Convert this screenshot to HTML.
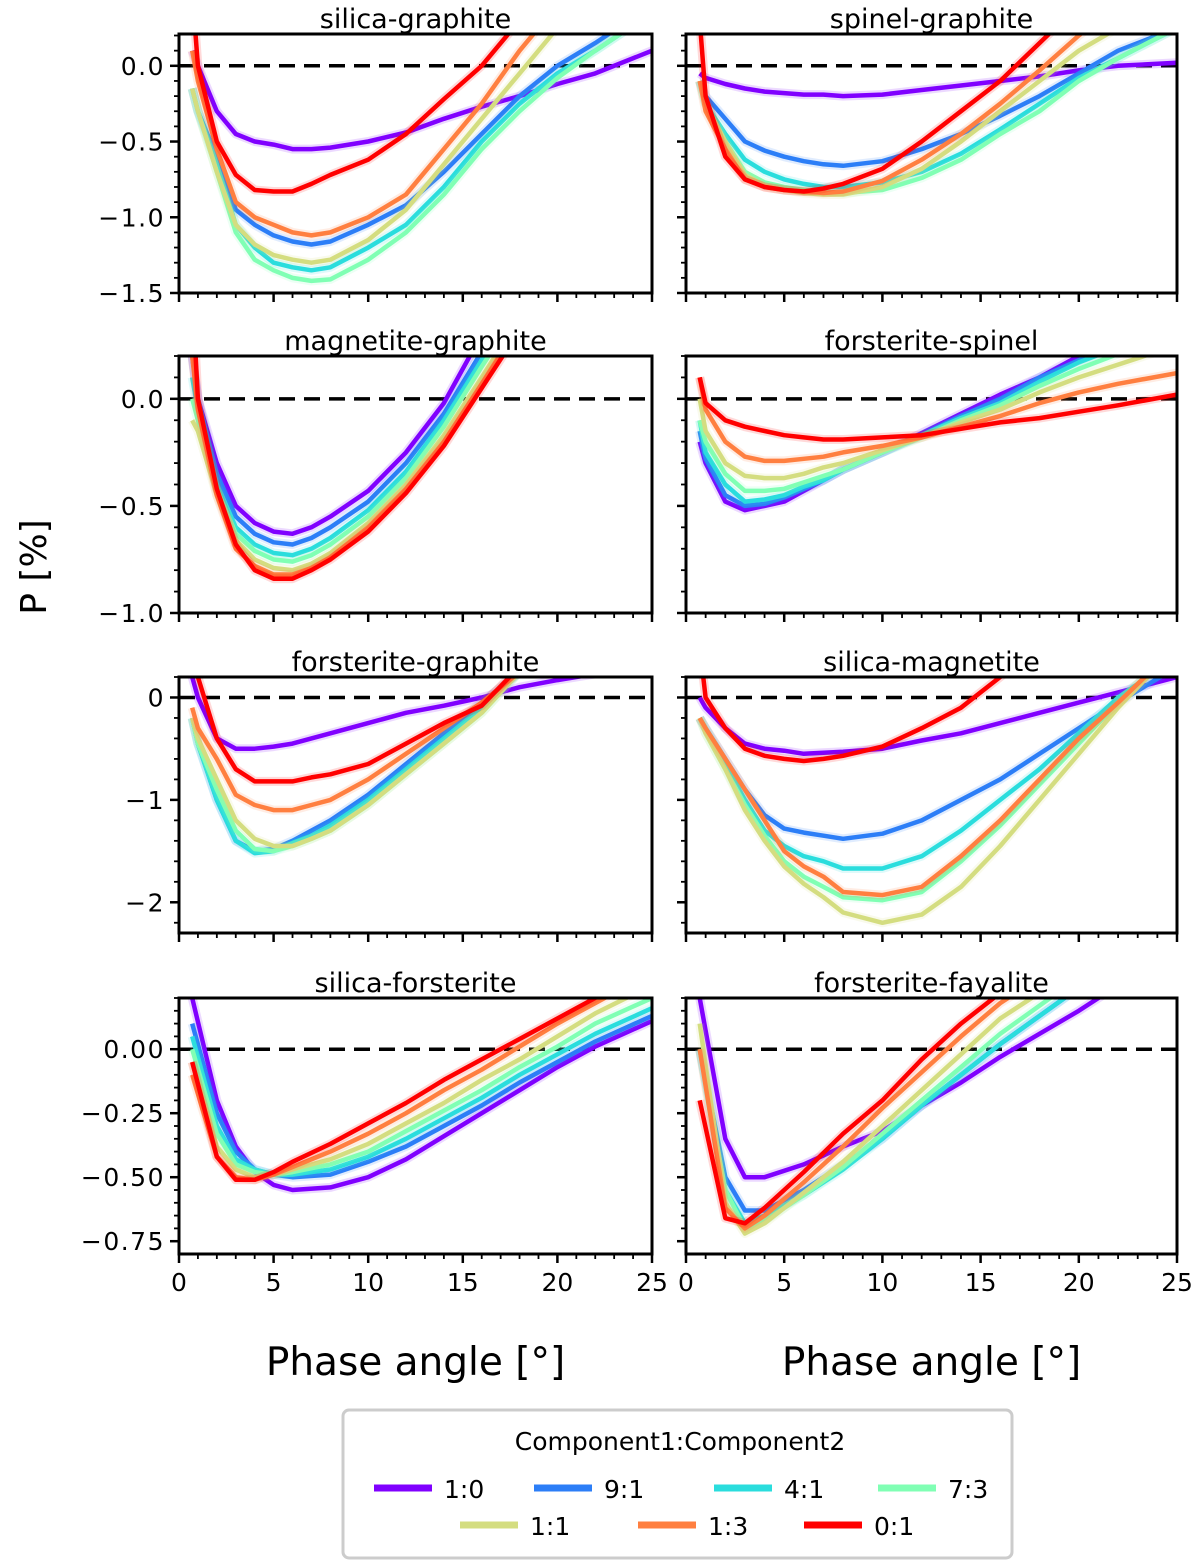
<!DOCTYPE html>
<html><head><meta charset="utf-8"><style>
html,body{margin:0;padding:0;background:#fff;}
svg{display:block;font-family:"DejaVu Sans","Liberation Sans",sans-serif;}
</style></head><body>
<svg id="chart" width="1200" height="1568" viewBox="0 0 1200 1568" xmlns="http://www.w3.org/2000/svg"></svg>
<script>
const ratioLabels=["1:0","9:1","4:1","7:3","1:1","1:3","0:1"];
const colors=["#8000ff","#2c7ef7","#2adddd","#80ffb4","#d4dd80","#ff7f40","#ff0000"];
const panelTitles=["silica-graphite","spinel-graphite","magnetite-graphite","forsterite-spinel","forsterite-graphite","silica-magnetite","silica-forsterite","forsterite-fayalite"];
const xTicks=[0,5,10,15,20,25];
const x1=[0.7,1,2,3,4,5,6,7,8,10,12,14,16,18,20,22,25];
const p1=[
[0.1,0.0,-0.3,-0.45,-0.5,-0.52,-0.55,-0.55,-0.54,-0.5,-0.44,-0.35,-0.27,-0.2,-0.12,-0.05,0.1],
[-0.15,-0.3,-0.6,-0.95,-1.05,-1.12,-1.16,-1.18,-1.16,-1.05,-0.92,-0.7,-0.45,-0.2,0,0.15,0.4],
[-0.15,-0.3,-0.65,-1.05,-1.2,-1.3,-1.33,-1.35,-1.33,-1.2,-1.05,-0.8,-0.5,-0.25,-0.05,0.1,0.35],
[-0.15,-0.3,-0.7,-1.1,-1.28,-1.35,-1.4,-1.42,-1.41,-1.28,-1.1,-0.85,-0.55,-0.3,-0.08,0.1,0.35],
[-0.15,-0.3,-0.7,-1.05,-1.18,-1.25,-1.28,-1.3,-1.28,-1.15,-0.95,-0.65,-0.35,-0.05,0.25,0.5,0.8],
[0.1,-0.1,-0.55,-0.9,-1.0,-1.05,-1.1,-1.12,-1.1,-1.0,-0.85,-0.55,-0.25,0.1,0.4,0.6,0.9],
[0.5,0.0,-0.5,-0.72,-0.82,-0.83,-0.83,-0.78,-0.72,-0.62,-0.45,-0.22,0.0,0.3,0.6,0.9,1.2]];
const p2=[
[-0.05,-0.08,-0.12,-0.15,-0.17,-0.18,-0.19,-0.19,-0.2,-0.19,-0.16,-0.13,-0.1,-0.07,-0.03,0.0,0.02],
[-0.1,-0.2,-0.35,-0.5,-0.56,-0.6,-0.63,-0.65,-0.66,-0.63,-0.55,-0.45,-0.33,-0.2,-0.05,0.1,0.25],
[-0.1,-0.25,-0.45,-0.62,-0.7,-0.75,-0.78,-0.8,-0.8,-0.77,-0.7,-0.58,-0.42,-0.25,-0.08,0.05,0.25],
[-0.1,-0.25,-0.5,-0.7,-0.77,-0.8,-0.82,-0.83,-0.84,-0.82,-0.74,-0.62,-0.45,-0.3,-0.1,0.05,0.25],
[-0.1,-0.25,-0.5,-0.72,-0.79,-0.82,-0.84,-0.85,-0.85,-0.8,-0.68,-0.5,-0.3,-0.1,0.1,0.25,0.5],
[-0.1,-0.3,-0.55,-0.75,-0.8,-0.82,-0.83,-0.84,-0.83,-0.76,-0.62,-0.45,-0.25,-0.03,0.2,0.4,0.6],
[0.3,-0.2,-0.6,-0.75,-0.8,-0.82,-0.83,-0.81,-0.78,-0.68,-0.5,-0.3,-0.1,0.15,0.4,0.6,0.9]];
const p3=[
[0.2,0.0,-0.3,-0.5,-0.58,-0.62,-0.63,-0.6,-0.55,-0.43,-0.25,-0.02,0.3,0.6,0.9,1.2,1.5],
[0.2,0.0,-0.35,-0.55,-0.63,-0.67,-0.68,-0.65,-0.6,-0.48,-0.3,-0.07,0.22,0.5,0.8,1.1,1.4],
[0.1,-0.05,-0.4,-0.6,-0.68,-0.72,-0.73,-0.7,-0.65,-0.52,-0.34,-0.1,0.18,0.45,0.75,1.0,1.3],
[0.0,-0.1,-0.42,-0.63,-0.71,-0.75,-0.76,-0.73,-0.68,-0.55,-0.37,-0.13,0.15,0.42,0.7,1.0,1.3],
[-0.1,-0.15,-0.45,-0.66,-0.75,-0.79,-0.8,-0.77,-0.72,-0.58,-0.4,-0.17,0.1,0.38,0.65,0.95,1.25],
[0.2,-0.05,-0.45,-0.7,-0.78,-0.82,-0.82,-0.79,-0.74,-0.6,-0.42,-0.2,0.07,0.35,0.62,0.9,1.2],
[0.5,0.0,-0.42,-0.68,-0.8,-0.84,-0.84,-0.8,-0.75,-0.62,-0.44,-0.22,0.05,0.32,0.6,0.9,1.2]];
const p4=[
[-0.2,-0.3,-0.48,-0.52,-0.5,-0.48,-0.43,-0.38,-0.33,-0.25,-0.16,-0.07,0.02,0.1,0.2,0.28,0.4],
[-0.15,-0.28,-0.45,-0.5,-0.49,-0.46,-0.42,-0.38,-0.33,-0.25,-0.17,-0.08,0.0,0.1,0.18,0.26,0.38],
[-0.1,-0.25,-0.4,-0.48,-0.47,-0.45,-0.41,-0.38,-0.33,-0.25,-0.17,-0.09,-0.02,0.08,0.17,0.24,0.35],
[-0.1,-0.2,-0.35,-0.43,-0.43,-0.42,-0.39,-0.36,-0.33,-0.25,-0.18,-0.1,-0.03,0.06,0.14,0.21,0.32],
[0.0,-0.15,-0.3,-0.36,-0.37,-0.37,-0.35,-0.32,-0.3,-0.24,-0.18,-0.11,-0.05,0.03,0.1,0.16,0.25],
[0.1,-0.05,-0.2,-0.27,-0.29,-0.29,-0.28,-0.27,-0.25,-0.22,-0.18,-0.13,-0.08,-0.02,0.03,0.07,0.12],
[0.1,-0.02,-0.1,-0.13,-0.15,-0.17,-0.18,-0.19,-0.19,-0.18,-0.17,-0.14,-0.11,-0.09,-0.06,-0.03,0.02]];
const p5=[
[0.2,0.0,-0.4,-0.5,-0.5,-0.48,-0.45,-0.4,-0.35,-0.25,-0.15,-0.08,0.0,0.1,0.17,0.23,0.35],
[-0.2,-0.45,-1.0,-1.4,-1.5,-1.48,-1.4,-1.3,-1.2,-0.95,-0.65,-0.35,-0.05,0.25,0.5,0.8,1.1],
[-0.2,-0.45,-1.0,-1.4,-1.52,-1.5,-1.42,-1.35,-1.25,-1.0,-0.7,-0.4,-0.1,0.25,0.5,0.8,1.1],
[-0.2,-0.45,-0.9,-1.3,-1.48,-1.5,-1.45,-1.38,-1.3,-1.05,-0.75,-0.45,-0.15,0.25,0.5,0.8,1.1],
[-0.2,-0.4,-0.8,-1.2,-1.38,-1.45,-1.45,-1.38,-1.3,-1.05,-0.75,-0.45,-0.15,0.25,0.5,0.8,1.1],
[-0.1,-0.3,-0.6,-0.95,-1.05,-1.1,-1.1,-1.05,-1.0,-0.8,-0.55,-0.3,-0.05,0.25,0.5,0.8,1.1],
[1.0,0.2,-0.4,-0.7,-0.82,-0.82,-0.82,-0.78,-0.75,-0.65,-0.45,-0.25,-0.08,0.3,0.6,0.9,1.2]];
const p6=[
[0.0,-0.1,-0.3,-0.45,-0.5,-0.52,-0.55,-0.54,-0.53,-0.5,-0.42,-0.35,-0.25,-0.15,-0.05,0.05,0.2],
[-0.2,-0.3,-0.6,-0.9,-1.15,-1.28,-1.32,-1.35,-1.38,-1.33,-1.2,-1.0,-0.8,-0.55,-0.3,-0.05,0.3],
[-0.2,-0.3,-0.65,-1.0,-1.3,-1.45,-1.55,-1.6,-1.67,-1.67,-1.55,-1.3,-1.0,-0.7,-0.35,0.0,0.4],
[-0.2,-0.35,-0.7,-1.05,-1.35,-1.6,-1.75,-1.85,-1.95,-1.98,-1.9,-1.6,-1.25,-0.85,-0.45,-0.05,0.5],
[-0.2,-0.35,-0.7,-1.1,-1.4,-1.65,-1.82,-1.95,-2.1,-2.2,-2.12,-1.85,-1.45,-1.0,-0.55,-0.1,0.5],
[-0.2,-0.3,-0.6,-0.9,-1.2,-1.5,-1.65,-1.75,-1.9,-1.93,-1.85,-1.55,-1.2,-0.8,-0.4,-0.05,0.5],
[0.5,0.0,-0.3,-0.5,-0.57,-0.6,-0.62,-0.6,-0.57,-0.48,-0.3,-0.1,0.2,0.5,0.8,1.1,1.5]];
const x7=[0.7,2,3,4,5,6,8,10,12,14,16,18,20,22,25];
const p7=[
[0.2,-0.2,-0.38,-0.48,-0.53,-0.55,-0.54,-0.5,-0.43,-0.34,-0.25,-0.16,-0.07,0.01,0.11],
[0.1,-0.25,-0.4,-0.47,-0.49,-0.5,-0.49,-0.44,-0.38,-0.3,-0.22,-0.13,-0.05,0.03,0.13],
[0.05,-0.3,-0.43,-0.47,-0.49,-0.49,-0.47,-0.42,-0.35,-0.27,-0.19,-0.1,-0.02,0.06,0.16],
[0.0,-0.33,-0.45,-0.48,-0.49,-0.48,-0.45,-0.4,-0.32,-0.24,-0.16,-0.07,0.01,0.1,0.2],
[-0.05,-0.38,-0.47,-0.5,-0.49,-0.47,-0.43,-0.37,-0.29,-0.21,-0.12,-0.04,0.05,0.14,0.25],
[-0.1,-0.42,-0.5,-0.51,-0.49,-0.46,-0.4,-0.33,-0.25,-0.16,-0.08,0.01,0.1,0.18,0.3],
[-0.05,-0.42,-0.51,-0.51,-0.48,-0.44,-0.37,-0.29,-0.21,-0.12,-0.04,0.04,0.12,0.2,0.3]];
const x8=[0.7,2,3,4,6,8,10,12,14,16,18,20,22];
const p8=[
[0.2,-0.35,-0.5,-0.5,-0.45,-0.38,-0.32,-0.22,-0.13,-0.03,0.06,0.15,0.25],
[0.0,-0.5,-0.63,-0.63,-0.55,-0.45,-0.35,-0.22,-0.1,0.02,0.13,0.24,0.35],
[0.0,-0.55,-0.68,-0.65,-0.57,-0.47,-0.35,-0.22,-0.1,0.02,0.13,0.24,0.35],
[0.0,-0.55,-0.7,-0.67,-0.57,-0.46,-0.33,-0.2,-0.07,0.06,0.17,0.28,0.4],
[0.1,-0.6,-0.72,-0.68,-0.56,-0.44,-0.3,-0.16,-0.02,0.12,0.22,0.35,0.45],
[0.0,-0.62,-0.7,-0.65,-0.52,-0.38,-0.23,-0.09,0.05,0.18,0.28,0.4,0.5],
[-0.2,-0.66,-0.68,-0.62,-0.48,-0.33,-0.2,-0.04,0.1,0.22,0.35,0.45,0.55]];
const panelX=[x1,x1,x1,x1,x1,x1,x7,x8];
const panelSeries=[p1,p2,p3,p4,p5,p6,p7,p8];
const rowYMin=[-1.5,-1.0,-2.3,-0.8];
const rowYMax=[0.21,0.2,0.2,0.2];
const rowTicks=[[0,-0.5,-1.0,-1.5],[0,-0.5,-1.0],[0,-1,-2],[0,-0.25,-0.5,-0.75]];
const rowTickLabels=[["0.0","−0.5","−1.0","−1.5"],["0.0","−0.5","−1.0"],["0","−1","−2"],["0.00","−0.25","−0.50","−0.75"]];
const rowMinor=[0.1,0.1,0.2,0.05];

const NS="http://www.w3.org/2000/svg";
const svg=document.getElementById('chart');
function mk(tag,attrs,parent){const e=document.createElementNS(NS,tag);for(const k in attrs)e.setAttribute(k,attrs[k]);(parent||svg).appendChild(e);return e;}
const colL=[179,686],colR=[652,1177];
const rowT=[34,356,677,998],rowB=[293,613,933,1254];
const defs=mk('defs',{});
for(let p=0;p<8;p++){
  const r=Math.floor(p/2),c=p%2;
  const L=colL[c],R=colR[c],T=rowT[r],B=rowB[r];
  const xs=v=>L+(v/25)*(R-L);
  const ys=v=>T+(rowYMax[r]-v)/(rowYMax[r]-rowYMin[r])*(B-T);
  const g=mk('g',{});
  
  
  const cp=mk('clipPath',{id:'cp'+p},defs);mk('rect',{x:L,y:T,width:R-L,height:B-T},cp);
  const t=mk('text',{x:(L+R)/2,y:T-6,'text-anchor':'middle','font-size':27,fill:'#000'},g);
  t.textContent=panelTitles[p];
  
  
  const z=mk('line',{x1:L,x2:R,y1:ys(0),y2:ys(0),stroke:'#000','stroke-width':3.5,'stroke-dasharray':'16,9'},g);
  
  
  const lg=mk('g',{'clip-path':'url(#cp'+p+')'},g);
  panelSeries[p].forEach((vals,i)=>{
    const pts=vals.map((v,j)=>xs(panelX[p][j]).toFixed(1)+','+ys(v).toFixed(1)).join(' ');
    mk('polyline',{points:pts,fill:'none',stroke:colors[i],'stroke-width':9,'stroke-opacity':0.15,'stroke-linejoin':'round'},lg);
    const pl=mk('polyline',{points:pts,fill:'none',stroke:colors[i],'stroke-width':4.5,'stroke-linejoin':'round'},lg);
    
    
  });
  const fr=mk('rect',{x:L,y:T,width:R-L,height:B-T,fill:'none',stroke:'#000','stroke-width':3},g);
  
  
  rowTicks[r].forEach((v,k)=>{
    mk('line',{x1:L-9,x2:L,y1:ys(v),y2:ys(v),stroke:'#000','stroke-width':2.5},g);
    if(c===0){const tl=mk('text',{x:L-14,y:ys(v)+9,'text-anchor':'end','font-size':25,'letter-spacing':'1.5'},g);tl.textContent=rowTickLabels[r][k];
      
      }
  });
  for(let v=0;v>=rowYMin[r]-1e-9;v-=rowMinor[r]){
    for(const s of [1,-1]){const vv=s>0?v:-v; if(vv>rowYMax[r]||vv<rowYMin[r])continue;
      mk('line',{x1:L-5,x2:L,y1:ys(vv),y2:ys(vv),stroke:'#000','stroke-width':1.8},g);}
  }
  for(let v=0;v<=25;v++){const maj=v%5===0;
    mk('line',{x1:xs(v),x2:xs(v),y1:B,y2:B+(maj?9:5),stroke:'#000','stroke-width':maj?2.5:1.8},g);}
  if(r===3){xTicks.forEach(v=>{const tl=mk('text',{x:xs(v),y:B+37,'text-anchor':'middle','font-size':25},g);tl.textContent=v;
    
    });
    const xl=mk('text',{x:(L+R)/2,y:1375,'text-anchor':'middle','font-size':39},g);xl.textContent='Phase angle [°]';
    
    }
}
const yl=mk('text',{x:0,y:0,transform:'translate(46,567) rotate(-90)','text-anchor':'middle','font-size':36});
yl.textContent='P [%]';


const lgd=mk('g',{});


mk('rect',{x:343,y:1410,width:669,height:148,rx:6,fill:'#fff',stroke:'#ccc','stroke-width':3},lgd);
const lt=mk('text',{x:680,y:1450,'text-anchor':'middle','font-size':25},lgd);lt.textContent='Component1:Component2';
const lpos=[[374,1488],[534,1488],[714,1488],[878,1488],[460,1525],[638,1525],[804,1525]];
ratioLabels.forEach((lab,i)=>{
  const e=mk('g',{},lgd);
  
  
  const [x,y]=lpos[i];
  mk('line',{x1:x,x2:x+58,y1:y,y2:y,stroke:colors[i],'stroke-width':7},e);
  const tx=mk('text',{x:x+70,y:y+10,'font-size':25},e);tx.textContent=lab;
});
</script>
</body></html>
